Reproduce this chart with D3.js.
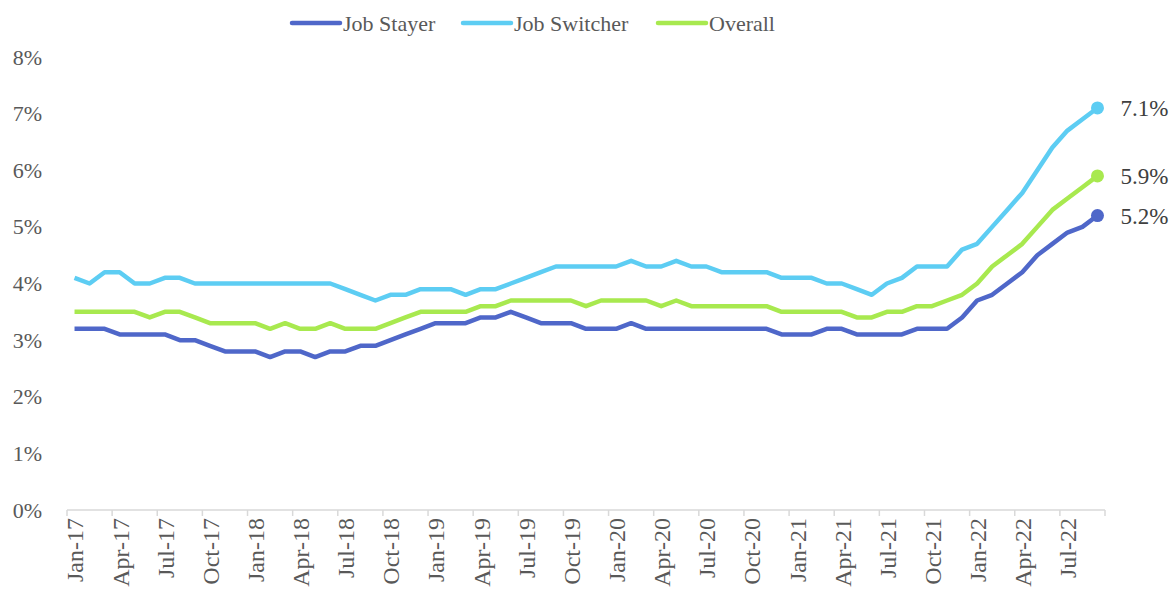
<!DOCTYPE html>
<html>
<head>
<meta charset="utf-8">
<script src="https://cdn.jsdelivr.net/npm/d3@7"></script>
<style>
  body { margin: 0; background: #fff; }
  text { font-family: "Palatino Linotype", "Book Antiqua", Palatino, "Liberation Serif", serif; }
</style>
</head>
<body>
<div id="chart"></div>
<script>
// chart size
var svgWidth = 1175;
var svgHeight = 599;

var margin = { top: 57, right: 70, bottom: 89, left: 67 };

// months Jan-17 .. Sep-22
var months = d3.timeMonths(new Date(2017, 0, 1), new Date(2022, 9, 1)).map(d3.timeFormat("%b-%y"));

// quarterly tick labels
var tickLabels = ["Jan-17", "Apr-17", "Jul-17", "Oct-17", "Jan-18", "Apr-18", "Jul-18", "Oct-18",
  "Jan-19", "Apr-19", "Jul-19", "Oct-19", "Jan-20", "Apr-20", "Jul-20", "Oct-20",
  "Jan-21", "Apr-21", "Jul-21", "Oct-21", "Jan-22", "Apr-22", "Jul-22"];

var yTicks = [0, 1, 2, 3, 4, 5, 6, 7, 8];

// wage growth, %
var jobStayer = [3.2, 3.2, 3.2, 3.1, 3.1, 3.1, 3.1, 3.0, 3.0, 2.9, 2.8, 2.8,
  2.8, 2.7, 2.8, 2.8, 2.7, 2.8, 2.8, 2.9, 2.9, 3.0, 3.1, 3.2,
  3.3, 3.3, 3.3, 3.4, 3.4, 3.5, 3.4, 3.3, 3.3, 3.3, 3.2, 3.2,
  3.2, 3.3, 3.2, 3.2, 3.2, 3.2, 3.2, 3.2, 3.2, 3.2, 3.2, 3.1,
  3.1, 3.1, 3.2, 3.2, 3.1, 3.1, 3.1, 3.1, 3.2, 3.2, 3.2, 3.4,
  3.7, 3.8, 4.0, 4.2, 4.5, 4.7, 4.9, 5.0, 5.2];

var jobSwitcher = [4.1, 4.0, 4.2, 4.2, 4.0, 4.0, 4.1, 4.1, 4.0, 4.0, 4.0, 4.0,
  4.0, 4.0, 4.0, 4.0, 4.0, 4.0, 3.9, 3.8, 3.7, 3.8, 3.8, 3.9,
  3.9, 3.9, 3.8, 3.9, 3.9, 4.0, 4.1, 4.2, 4.3, 4.3, 4.3, 4.3,
  4.3, 4.4, 4.3, 4.3, 4.4, 4.3, 4.3, 4.2, 4.2, 4.2, 4.2, 4.1,
  4.1, 4.1, 4.0, 4.0, 3.9, 3.8, 4.0, 4.1, 4.3, 4.3, 4.3, 4.6,
  4.7, 5.0, 5.3, 5.6, 6.0, 6.4, 6.7, 6.9, 7.1];

var overall = [3.5, 3.5, 3.5, 3.5, 3.5, 3.4, 3.5, 3.5, 3.4, 3.3, 3.3, 3.3,
  3.3, 3.2, 3.3, 3.2, 3.2, 3.3, 3.2, 3.2, 3.2, 3.3, 3.4, 3.5,
  3.5, 3.5, 3.5, 3.6, 3.6, 3.7, 3.7, 3.7, 3.7, 3.7, 3.6, 3.7,
  3.7, 3.7, 3.7, 3.6, 3.7, 3.6, 3.6, 3.6, 3.6, 3.6, 3.6, 3.5,
  3.5, 3.5, 3.5, 3.5, 3.4, 3.4, 3.5, 3.5, 3.6, 3.6, 3.7, 3.8,
  4.0, 4.3, 4.5, 4.7, 5.0, 5.3, 5.5, 5.7, 5.9];

var seriesNames = ["Job Stayer", "Job Switcher", "Overall"];
var seriesColors = ["#4f67c9", "#5dcdf3", "#a8e94f"];
var seriesValues = [jobStayer, jobSwitcher, overall];

var chartWidth = svgWidth - margin.left - margin.right;
var chartHeight = svgHeight - margin.top - margin.bottom;

var svg = d3.select("#chart")
  .append("svg")
  .attr("width", svgWidth)
  .attr("height", svgHeight);

var chartGroup = svg.append("g")
  .attr("transform", `translate(${margin.left}, ${margin.top})`);

// scales
var xBand = d3.scaleBand().domain(months).range([0, chartWidth]);
var xScale = d3.scalePoint().domain(months).range([0, chartWidth]).padding(0.5);
var yScale = d3.scaleLinear().domain([0, 8]).range([chartHeight, 0]);

// y axis labels only
var leftAxis = d3.axisLeft(yScale).tickValues(yTicks).tickSize(0).tickPadding(25)
  .tickFormat(d => d + "%");
var yAxis = chartGroup.append("g").call(leftAxis);
yAxis.select(".domain").remove();
yAxis.selectAll("text")
  .attr("fill", "#595959")
  .style("font-size", "22px");

// x axis: labels at each quarter start, ticks on category edges
var bottomAxis = d3.axisBottom(xScale).tickValues(tickLabels).tickSize(0);
var xAxis = chartGroup.append("g")
  .attr("transform", `translate(0, ${chartHeight})`)
  .call(bottomAxis);
xAxis.select(".domain").remove();
xAxis.selectAll("text")
  .attr("fill", "#595959")
  .style("font-size", "24px")
  .attr("text-anchor", "end")
  .attr("transform", "rotate(-90)")
  .attr("x", -8)
  .attr("y", 0)
  .attr("dy", "0.35em");

var edgeTicks = tickLabels.map(m => xBand(m)).concat([chartWidth]);
xAxis.append("line")
  .attr("x1", 0).attr("x2", chartWidth)
  .attr("y1", 0).attr("y2", 0)
  .attr("stroke", "#d9d9d9")
  .attr("stroke-width", 1.5);
xAxis.selectAll(".edge")
  .data(edgeTicks)
  .enter()
  .append("line")
  .attr("class", "edge")
  .attr("x1", d => d).attr("x2", d => d)
  .attr("y1", 0).attr("y2", 6)
  .attr("stroke", "#d9d9d9")
  .attr("stroke-width", 1.5);

// lines
var line = d3.line()
  .x((d, i) => xScale(months[i]))
  .y(d => yScale(d));

seriesValues.forEach(function(vals, k) {
  chartGroup.append("path")
    .datum(vals)
    .attr("fill", "none")
    .attr("stroke", seriesColors[k])
    .attr("stroke-width", 4.5)
    .attr("stroke-linejoin", "round")
    .attr("d", line);

  var last = vals.length - 1;
  chartGroup.append("circle")
    .attr("cx", xScale(months[last]))
    .attr("cy", yScale(vals[last]))
    .attr("r", 6.5)
    .attr("fill", seriesColors[k]);

  chartGroup.append("text")
    .attr("x", xScale(months[last]) + 23)
    .attr("y", yScale(vals[last]))
    .attr("dy", "0.35em")
    .attr("fill", "#404040")
    .style("font-size", "23px")
    .text(vals[last].toFixed(1) + "%");
});

// legend
var legendX = [292, 463, 658];
var legend = svg.append("g").attr("transform", "translate(0, 23)");
seriesNames.forEach(function(name, k) {
  legend.append("line")
    .attr("x1", legendX[k]).attr("x2", legendX[k] + 48)
    .attr("y1", 0).attr("y2", 0)
    .attr("stroke", seriesColors[k])
    .attr("stroke-width", 4.5)
    .attr("stroke-linecap", "round");
  legend.append("text")
    .attr("x", legendX[k] + 51)
    .attr("y", 0)
    .attr("dy", "0.35em")
    .attr("fill", "#595959")
    .style("font-size", "22px")
    .text(name);
});
</script>
</body>
</html>
